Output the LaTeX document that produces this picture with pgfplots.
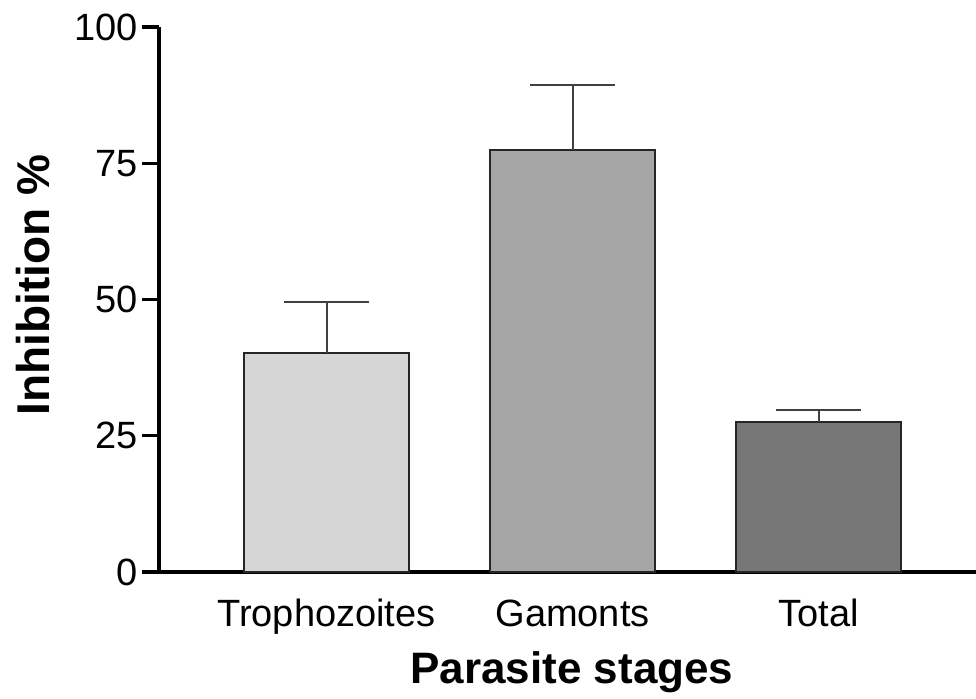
\documentclass[border=0pt]{standalone}
\usepackage{pgfplots}
\pgfplotsset{compat=1.18}
\usepackage{fontspec}
\setmainfont{Liberation Sans}
\definecolor{troph}{HTML}{D6D6D6}
\definecolor{gam}{HTML}{A6A6A6}
\definecolor{tot}{HTML}{777777}
\pgfplotsset{
  myerr/.style={
    error bars/.cd,
      y dir=plus, y explicit,
      error mark=|,
      error mark options={mark size=21.25pt, line width=1pt, black!75},
      error bar style={line width=1pt, black!75},
  }
}
\begin{document}
\begin{tikzpicture}
\begin{axis}[
  scale only axis,
  width=408.5pt, height=272.5pt,
  xmin=-0.681, xmax=2.640,
  ymin=0, ymax=100,
  axis lines=left,
  axis line style={-, line width=1.6pt, black},
  ytick={0,25,50,75,100},
  xtick={0,1,2},
  xticklabels={Trophozoites,Gamonts,Total},
  x tick style={draw=none},
  y tick style={line width=1.6pt, black},
  tick align=outside,
  major tick length=8.5pt,
  /pgf/number format/assume math mode=true,
  yticklabel style={font=\fontsize{19}{22}\selectfont, inner sep=0pt, xshift=-2pt},
  xticklabel style={font=\fontsize{19}{22}\selectfont, anchor=base, yshift=-19pt},
  xlabel={\bfseries Parasite stages},
  xlabel style={font=\fontsize{22}{26}\selectfont, anchor=base, at={(axis description cs:0.5055,-0.2037)}},
  ylabel={\bfseries Inhibition \%},
  ylabel style={font=\fontsize{23}{27}\selectfont, anchor=center, rotate=0, at={(axis description cs:-0.1542,0.527)}},
  ybar, bar width=82.5pt,
  clip=false,
]
\addplot[bar shift=0pt, fill=troph, draw=black!85, line width=1pt, myerr] coordinates {(0,40.2) +- (0,9.3)};
\addplot[bar shift=0pt, fill=gam, draw=black!85, line width=1pt, myerr] coordinates {(1,77.4) +- (0,11.9)};
\addplot[bar shift=0pt, fill=tot, draw=black!85, line width=1pt, myerr] coordinates {(2,27.6) +- (0,2.1)};
\end{axis}
\pgfresetboundingbox
\path ([shift={(-79.5pt,-63.5pt)}]current axis.south west) rectangle ([shift={(0pt,13.5pt)}]current axis.north east);
\end{tikzpicture}
\end{document}
